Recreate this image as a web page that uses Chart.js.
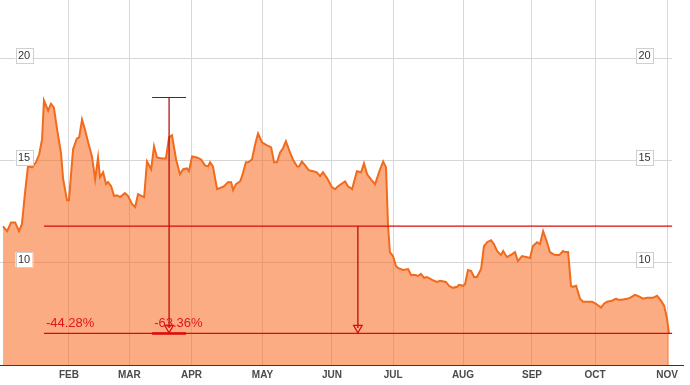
<!DOCTYPE html>
<html>
<head>
<meta charset="utf-8" />
<title>Price chart</title>
<style>
  html, body { margin: 0; padding: 0; background: #fff; }
  #wrap { width: 690px; height: 385px; }
</style>
</head>
<body>
<div id="wrap"><canvas id="screen"></canvas></div>
<script src="https://cdn.jsdelivr.net/npm/chart.js@4.4.1/dist/chart.umd.min.js"></script>
<script>
// session index (x) and closing price (y)
const days = [0.0,1.3,2.5,3.8,5.0,5.9,6.9,7.8,9.1,10.3,11.3,12.2,12.8,14.1,15.0,15.9,16.9,18.1,18.8,20.0,20.6,21.9,23.1,23.8,24.7,25.6,26.6,27.8,28.8,29.7,30.3,31.3,32.2,32.8,33.8,34.7,35.6,36.6,38.1,39.1,40.3,41.3,42.2,43.4,44.1,45.0,46.3,47.2,48.1,49.7,50.9,
  51.9,52.8,54.1,55.3,56.3,57.5,58.1,59.1,60.6,61.9,63.1,64.1,64.7,65.6,66.9,68.4,69.1,70.3,71.3,71.9,72.8,74.1,74.7,75.9,76.6,77.8,78.8,79.7,80.9,82.5,83.8,84.7,85.6,86.6,87.5,88.4,89.7,90.6,91.9,92.5,93.4,94.4,95.6,96.9,98.1,99.1,100.0,101.3,102.8,103.8,104.7,
  106.9,107.8,109.1,110.6,111.9,112.8,113.8,115.0,116.3,117.5,118.8,119.7,120.3,120.9,121.9,122.8,123.4,125.0,126.6,127.5,128.8,129.7,130.6,131.6,132.5,134.1,135.6,136.6,138.4,139.4,140.6,141.9,142.5,143.8,144.4,145.3,146.3,147.2,148.1,149.4,150.3,151.3,152.5,153.4,154.4,155.6,156.3,157.5,
  159.1,160.0,160.9,162.2,163.8,164.7,165.6,166.9,167.8,168.8,170.0,170.9,172.5,173.8,175.0,175.6,176.6,177.5,178.1,179.1,180.3,181.3,182.5,184.1,185.3,186.9,187.8,188.8,190.3,191.6,192.2,193.4,195.0,195.9,197.5,198.4,200.0,201.3,202.2,203.1,204.4,205.6,206.6,207.5,208.1];
const prices = [11.77,11.53,11.96,11.96,11.53,11.87,13.44,14.70,14.65,14.90,15.28,16.02,17.92,17.43,17.77,17.58,16.51,15.38,14.07,13.05,13.05,15.54,16.07,16.12,16.99,16.51,15.88,15.19,14.07,15.14,14.17,14.41,13.83,13.93,13.73,13.25,13.29,13.20,13.39,13.25,12.86,12.71,13.34,13.25,13.20,14.94,14.56,15.68,15.14,15.09,15.09,
  16.12,16.22,15.04,14.31,14.56,14.60,14.46,15.19,15.14,15.04,14.75,14.70,14.90,14.70,13.59,13.68,13.73,13.93,13.93,13.54,13.83,13.97,14.22,14.90,14.90,15.04,15.78,16.31,15.88,15.73,15.63,14.90,14.90,15.38,15.59,15.93,15.38,15.04,14.70,14.70,14.94,14.75,14.51,14.46,14.41,14.22,14.41,14.12,13.68,13.59,13.73,
  13.97,13.73,13.59,14.46,14.41,14.85,14.31,14.07,13.83,14.41,14.94,14.65,11.87,10.51,10.31,9.83,9.73,9.63,9.68,9.39,9.39,9.34,9.44,9.25,9.29,9.15,9.05,9.10,9.05,8.86,8.76,8.81,8.91,8.86,8.95,9.63,9.58,9.29,9.29,9.68,10.80,10.99,11.09,10.90,10.56,10.36,10.56,10.26,
  10.41,10.51,10.07,10.31,10.26,10.22,10.80,10.99,10.90,11.53,10.99,10.51,10.36,10.36,10.56,10.51,10.51,8.86,8.81,8.86,8.23,8.08,8.08,8.08,7.98,7.79,7.98,8.08,8.13,8.23,8.18,8.18,8.23,8.27,8.42,8.37,8.23,8.27,8.27,8.27,8.37,8.13,7.89,7.26,6.53];

const monthDays = [20.6, 39.5, 58.9, 81.1, 102.8, 121.9, 143.75, 165.3, 185.0, 207.5];
const monthLabels = ["FEB", "MAR", "APR", "MAY", "JUN", "JUL", "AUG", "SEP", "OCT", "NOV"];
const priceTicks = [10, 15, 20];

// drawdown markers
const peakDay = 12.8, lastDay = 209.1;
const drop1Day = 51.9, drop2Day = 110.9;
const whiskerFrom = 46.6, whiskerTo = 57.2;
const highPrice = 18.07, midPrice = 11.78, lowPrice = 6.53, arrowPrice = 6.8;
const dropLabels = ["-44.28%", "-63.36%"];

const FONT = 'Arial, "Liberation Sans", sans-serif';
const RED = "#dd0a0a";

function seg(x1, y1, x2, y2) { return [{ x: x1, y: y1 }, { x: x2, y: y2 }]; }

function markLine(data, width, color) {
  return {
    data: data, borderColor: color || RED, borderWidth: width, fill: false,
    pointRadius: 0, order: 0
  };
}
function arrowLine(data) {
  return {
    data: data, borderColor: "#b00000", borderWidth: 1.2, fill: false, order: 0,
    pointRadius: [0, 5], pointStyle: "triangle", pointRotation: 180,
    pointBackgroundColor: "rgba(0,0,0,0)", pointBorderColor: RED, pointBorderWidth: 1.2
  };
}

const priceGrid = {
  id: "priceGrid",
  beforeDatasetsDraw(chart) {
    const { ctx, chartArea, scales: { x, y } } = chart;
    const right = x.getPixelForValue(lastDay);
    ctx.save();
    ctx.strokeStyle = "#d6d6d6";
    ctx.lineWidth = 1;
    priceTicks.forEach(v => {
      const py = Math.round(y.getPixelForValue(v)) + 0.5;
      ctx.beginPath();
      ctx.moveTo(chartArea.left, py);
      ctx.lineTo(right, py);
      ctx.stroke();
    });
    ctx.restore();
  },
  afterDatasetsDraw(chart) {
    const { ctx, chartArea, scales: { x, y } } = chart;
    const right = x.getPixelForValue(lastDay);
    ctx.save();
    ctx.font = "11px " + FONT;
    ctx.textAlign = "center";
    ctx.textBaseline = "middle";
    priceTicks.forEach(v => {
      const cy = Math.round(y.getPixelForValue(v)) - 2.5;
      [chartArea.left + 24, right - 27.5].forEach(cx => {
        ctx.fillStyle = "#fff";
        ctx.fillRect(cx - 8.5, cy - 7.5, 17, 15);
        ctx.strokeStyle = "#cfcfcf";
        ctx.strokeRect(Math.round(cx - 8.5) + 0.5, Math.round(cy - 7.5) + 0.5, 17, 15);
        ctx.fillStyle = "#333";
        ctx.fillText(String(v), cx, cy + 0.5);
      });
    });
    // drawdown percentages
    ctx.font = "13px " + FONT;
    ctx.textAlign = "left";
    ctx.textBaseline = "alphabetic";
    ctx.fillStyle = "#e3141b";
    const by = y.getPixelForValue(lowPrice) - 6.5;
    ctx.fillText(dropLabels[0], x.getPixelForValue(peakDay) + 2, by);
    ctx.fillText(dropLabels[1], x.getPixelForValue(whiskerFrom) + 2, by);
    ctx.restore();
  }
};

const ctx = document.getElementById("screen").getContext("2d");
const chart = new Chart(ctx, {
  type: "line",
  data: {
    datasets: [
      markLine(seg(peakDay, midPrice, lastDay, midPrice), 1.2),
      markLine(seg(peakDay, lowPrice, lastDay, lowPrice), 1.2),
      markLine(seg(whiskerFrom, highPrice, whiskerTo, highPrice), 1.2, "#b00000"),
      markLine(seg(whiskerFrom, lowPrice, whiskerTo, lowPrice), 2.5),
      arrowLine(seg(drop1Day, highPrice, drop1Day, arrowPrice)),
      arrowLine(seg(drop2Day, midPrice, drop2Day, arrowPrice)),
      {
        label: "Close",
        data: days.map((d, i) => ({ x: d, y: prices[i] })),
        borderColor: "#f26a1b",
        borderWidth: 2,
        backgroundColor: "rgba(249,104,28,0.55)",
        fill: "start",
        pointRadius: 0,
        tension: 0,
        order: 10
      }
    ]
  },
  options: {
    responsive: true,
    maintainAspectRatio: false,
    animation: false,
    layout: { autoPadding: false, padding: { left: 0, right: 7, top: 0, bottom: 0.5 } },
    plugins: { legend: { display: false }, tooltip: { enabled: false } },
    scales: {
      x: {
        type: "linear",
        min: -0.94,
        max: 212.5,
        afterBuildTicks: axis => { axis.ticks = monthDays.map(v => ({ value: v })); },
        ticks: {
          autoSkip: false,
          maxRotation: 0,
          padding: 3.5,
          color: "#4a4a4a",
          font: { family: FONT, size: 10, weight: "bold" },
          callback: (value, index) => monthLabels[index]
        },
        grid: { color: "#d8d8d8", drawTicks: false },
        border: { display: true, color: "#333", width: 1 }
      },
      y: {
        type: "linear",
        display: false,
        min: 4.96,
        max: 22.84
      }
    }
  },
  plugins: [priceGrid]
});
</script>
</body>
</html>
